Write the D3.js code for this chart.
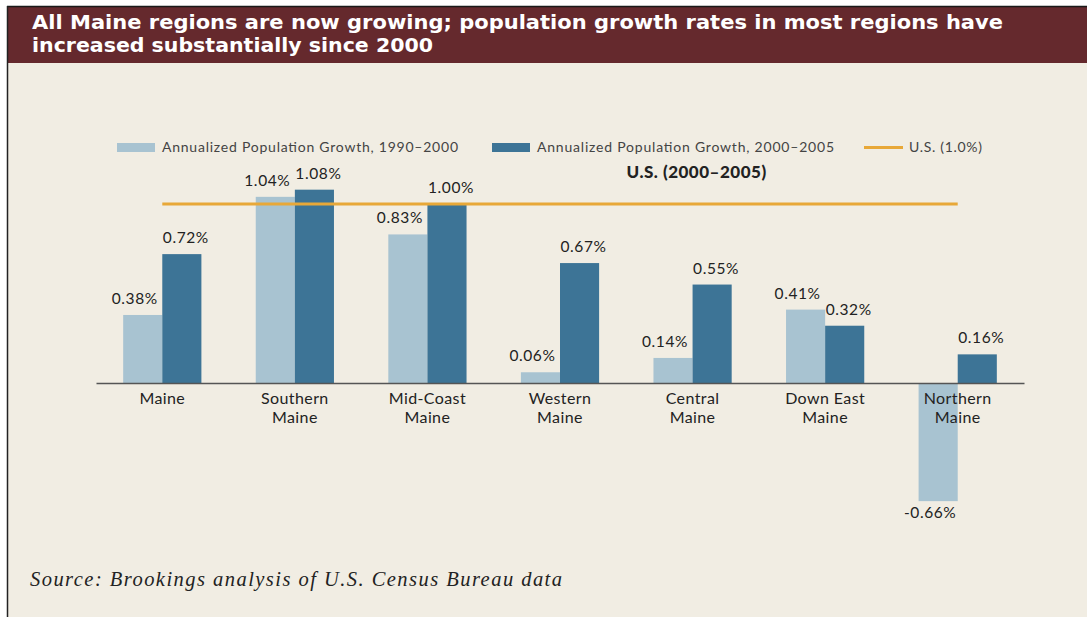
<!DOCTYPE html>
<html>
<head>
<meta charset="utf-8">
<script src="https://cdn.jsdelivr.net/npm/d3@7"></script>
<style>
  html, body { margin: 0; padding: 0; background: #ffffff; }
  svg { display: block; }
</style>
</head>
<body>
<svg id="chart" width="1087" height="617"></svg>
<script>
// Regions and annualized growth rates (percent per year)
const categories = ["Maine", "Southern Maine", "Mid-Coast Maine", "Western Maine", "Central Maine", "Down East Maine", "Northern Maine"];
const growth1990s = [0.38, 1.04, 0.83, 0.06, 0.14, 0.41, -0.66];
const growth2000s = [0.72, 1.08, 1.00, 0.67, 0.55, 0.32, 0.16];
const usRate = 1.0;

const seriesNames = ["Annualized Population Growth, 1990\u20132000", "Annualized Population Growth, 2000\u20132005"];
const usLegendLabel = "U.S. (1.0%)";
const usLineLabel = "U.S. (2000\u20132005)";
const titleLines = ["All Maine regions are now growing; population growth rates in most regions have", "increased substantially since 2000"];
const sourceNote = "Source: Brookings analysis of U.S. Census Bureau data";

const W = 1087, H = 617;
const colors = { light: "#a8c3d1", dark: "#3d7496", us: "#e8a838", maroon: "#65292d", cream: "#f1ede3", ink: "#222222" };
const sansFont = "Lato, 'Open Sans', sans-serif";

const svg = d3.select("#chart");

// Page frame: cream panel with a dark rule on top and left
svg.append("rect").attr("x", 7).attr("y", 6).attr("width", W - 7).attr("height", H - 6).attr("fill", colors.cream);
svg.append("rect").attr("x", 8).attr("y", 7).attr("width", W - 8).attr("height", 56).attr("fill", colors.maroon);
svg.append("line").attr("x1", 7).attr("x2", W).attr("y1", 6.5).attr("y2", 6.5).attr("stroke", "#1a1a1a").attr("stroke-width", 1.5);
svg.append("line").attr("x1", 7.5).attr("x2", 7.5).attr("y1", 6).attr("y2", H).attr("stroke", "#222").attr("stroke-width", 1.5);

// Title
const titleWidths = [971, 401];
svg.append("g").selectAll("text").data(titleLines).join("text")
  .attr("x", 32).attr("y", (d, i) => 28.5 + i * 23.5)
  .attr("fill", "#ffffff")
  .attr("font-family", "'DejaVu Sans', sans-serif")
  .attr("font-weight", "bold")
  .attr("font-size", 19.5)
  .attr("textLength", (d, i) => titleWidths[i])
  .attr("lengthAdjust", "spacingAndGlyphs")
  .text(d => d);

// Scales
const x = d3.scaleBand().domain(categories).range([96, 1024]).paddingInner(0.41).paddingOuter(0.205);
const xs = d3.scaleBand().domain([0, 1]).range([0, x.bandwidth()]);
const y = d3.scaleLinear().domain([0, 1]).range([383, 204]);

const rows = categories.map((c, i) => ({ cat: c, values: [growth1990s[i], growth2000s[i]] }));
const seriesColors = [colors.light, colors.dark];

// Bars
const groups = svg.append("g").selectAll("g").data(rows).join("g")
  .attr("transform", d => `translate(${x(d.cat)},0)`);

groups.selectAll("rect").data(d => d.values.map((v, s) => ({ v, s }))).join("rect")
  .attr("x", d => xs(d.s))
  .attr("width", xs.bandwidth())
  .attr("y", d => Math.min(y(d.v), y(0)))
  .attr("height", d => Math.abs(y(d.v) - y(0)))
  .attr("fill", d => seriesColors[d.s]);

// Value labels
const labelShift = [-8, 4];
groups.selectAll("text.value").data(d => d.values.map((v, s) => ({ v, s }))).join("text")
  .attr("class", "value")
  .attr("x", d => xs(d.s) + xs.bandwidth() / 2 + labelShift[d.s])
  .attr("y", d => d.v >= 0 ? y(d.v) - 11 : y(d.v) + 17)
  .attr("text-anchor", "middle")
  .attr("font-family", sansFont)
  .attr("font-size", 15.5)
  .attr("letter-spacing", 0.6)
  .attr("fill", colors.ink)
  .text(d => d3.format(".2f")(d.v).replace("\u2212", "-") + "%");

// Category axis along zero
const axis = svg.append("g").attr("transform", `translate(0,${y(0)})`)
  .call(d3.axisBottom(x).tickSize(0).tickFormat(""));
axis.select(".domain").attr("stroke", "#555").attr("stroke-width", 1.5);

const catLabels = svg.append("g").selectAll("text").data(categories).join("text")
  .attr("x", d => x(d) + x.bandwidth() / 2)
  .attr("y", y(0) + 21)
  .attr("text-anchor", "middle")
  .attr("font-family", sansFont)
  .attr("font-size", 16)
  .attr("letter-spacing", 0.4)
  .attr("fill", colors.ink);
catLabels.each(function(d) {
  const cut = d.lastIndexOf(" ");
  const lines = cut > 0 ? [d.slice(0, cut), d.slice(cut + 1)] : [d];
  d3.select(this).selectAll("tspan").data(lines).join("tspan")
    .attr("x", x(d) + x.bandwidth() / 2)
    .attr("dy", (l, i) => i === 0 ? 0 : 19)
    .text(l => l);
});

// U.S. reference line
const first = categories[0], last = categories[categories.length - 1];
svg.append("line")
  .attr("x1", x(first) + x.bandwidth() / 2)
  .attr("x2", x(last) + x.bandwidth() / 2)
  .attr("y1", y(usRate)).attr("y2", y(usRate))
  .attr("stroke", colors.us).attr("stroke-width", 3);
svg.append("text")
  .attr("x", x(categories[4]) + x.bandwidth() / 2 + 4)
  .attr("y", y(usRate) - 26)
  .attr("text-anchor", "middle")
  .attr("font-family", sansFont)
  .attr("font-weight", 900)
  .attr("font-size", 17)
  .attr("letter-spacing", 0.5)
  .attr("fill", colors.ink)
  .text(usLineLabel);

// Legend
const legend = svg.append("g").attr("font-family", sansFont).attr("font-size", 14).attr("fill", "#444");
const legendItems = [
  { kind: "rect", color: colors.light, label: seriesNames[0], x0: 117, tx: 162, tw: 296 },
  { kind: "rect", color: colors.dark, label: seriesNames[1], x0: 492, tx: 537, tw: 297 },
  { kind: "line", color: colors.us, label: usLegendLabel, x0: 864, tx: 909, tw: 73 }
];
legendItems.forEach(it => {
  if (it.kind === "rect") {
    legend.append("rect").attr("x", it.x0).attr("y", 143).attr("width", 38).attr("height", 9).attr("fill", it.color);
  } else {
    legend.append("line").attr("x1", it.x0).attr("x2", it.x0 + 39).attr("y1", 147.5).attr("y2", 147.5)
      .attr("stroke", it.color).attr("stroke-width", 3);
  }
  legend.append("text").attr("x", it.tx).attr("y", 152)
    .attr("textLength", it.tw).attr("lengthAdjust", "spacing")
    .text(it.label);
});

// Source note
svg.append("text")
  .attr("x", 30).attr("y", 586)
  .attr("font-family", "'Liberation Serif', 'DejaVu Serif', serif")
  .attr("font-style", "italic")
  .attr("font-size", 20.5)
  .attr("fill", colors.ink)
  .attr("textLength", 532).attr("lengthAdjust", "spacing")
  .text(sourceNote);
</script>
</body>
</html>
